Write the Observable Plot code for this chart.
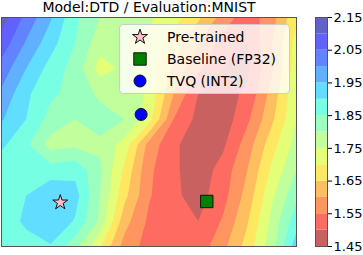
<!DOCTYPE html>
<html><head><meta charset="utf-8">
<script src="https://cdn.jsdelivr.net/npm/d3@7"></script>
<script src="https://cdn.jsdelivr.net/npm/@observablehq/plot@0.6"></script>
<style>
html,body{margin:0;padding:0;background:#fff;}
#root{position:relative;width:363px;height:255px;overflow:hidden;font-family:"DejaVu Sans",sans-serif;color:#000;}
#title{position:absolute;left:0;top:-1px;width:298px;text-align:center;font-size:14px;line-height:16px;white-space:nowrap;}
#main{position:absolute;left:0;top:16px;}
#cbar{position:absolute;left:314px;top:0;}
#legend{position:absolute;left:119px;top:24px;width:169px;height:68px;background:rgba(255,255,255,0.8);border:1px solid #cccccc;border-radius:4px;}
#legend svg{position:absolute;left:0;top:0;}
.lt{position:absolute;left:47px;font-size:14px;line-height:16px;white-space:nowrap;}
</style></head><body>
<div id="root">
  <div id="title">Model:DTD / Evaluation:MNIST</div>
  <div id="main"></div>
  <div id="cbar"></div>
  <div id="legend"></div>
</div>
<script>
// grid of sampled values (rows top -> bottom, 13 columns left -> right)
const gridCols = 13;
const gridRows = 10;
const row0 = [2.125, 2.035, 1.955, 1.86, 1.80, 1.78, 1.76, 1.72, 1.66, 1.58, 1.52, 1.58, 1.69];
const row1 = [2.08, 1.995, 1.92, 1.85, 1.77, 1.75, 1.73, 1.68, 1.60, 1.53, 1.50, 1.60, 1.72];
const row2 = [2.03, 1.95, 1.88, 1.83, 1.73, 1.76, 1.72, 1.64, 1.56, 1.50, 1.49, 1.59, 1.73];
const row3 = [1.99, 1.91, 1.86, 1.83, 1.79, 1.79, 1.74, 1.60, 1.50, 1.48, 1.51, 1.62, 1.74];
const row4 = [1.955, 1.90, 1.83, 1.80, 1.82, 1.80, 1.72, 1.55, 1.485, 1.47, 1.54, 1.64, 1.75];
const row5 = [1.91, 1.86, 1.78, 1.79, 1.79, 1.73, 1.58, 1.51, 1.47, 1.49, 1.575, 1.68, 1.77];
const row6 = [1.87, 1.87, 1.875, 1.885, 1.81, 1.69, 1.56, 1.51, 1.47, 1.52, 1.60, 1.71, 1.80];
const row7 = [1.87, 1.90, 1.94, 1.92, 1.80, 1.665, 1.555, 1.51, 1.48, 1.53, 1.62, 1.74, 1.84];
const row8 = [1.87, 1.91, 1.945, 1.895, 1.79, 1.62, 1.54, 1.51, 1.50, 1.555, 1.645, 1.765, 1.88];
const row9 = [1.86, 1.88, 1.895, 1.82, 1.705, 1.58, 1.53, 1.52, 1.52, 1.585, 1.67, 1.78, 1.93];

const levels = [1.45, 1.50, 1.55, 1.60, 1.65, 1.70, 1.75, 1.80, 1.85, 1.90, 1.95, 2.00, 2.05, 2.10, 2.15];
const cbarTicks = [1.45, 1.55, 1.65, 1.75, 1.85, 1.95, 2.05, 2.15];

const markerNames = ["Pre-trained", "Baseline (FP32)", "TVQ (INT2)"];
const markerX = [2.39, 8.35, 5.68];
const markerY = [7.27, 7.23, 3.81];
const markerSymbols = ["star", "square", "circle"];
const markerFills = ["pink", "green", "blue"];
const markerR = [4.7, 7, 6];

// --- build ---
const values = [row0,row1,row2,row3,row4,row5,row6,row7,row8,row9].flat();

function jet(t) {
  const seg = (pts) => {
    for (let i = 1; i < pts.length; i++) {
      if (t <= pts[i][0]) {
        const [x0, y0] = pts[i-1], [x1, y1] = pts[i];
        return y0 + (y1 - y0) * (t - x0) / (x1 - x0);
      }
    }
    return pts[pts.length-1][1];
  };
  const r = seg([[0,0],[0.35,0],[0.66,1],[0.89,1],[1,0.5]]);
  const g = seg([[0,0],[0.125,0],[0.375,1],[0.64,1],[0.91,0],[1,0]]);
  const b = seg([[0,0.5],[0.11,1],[0.34,1],[0.65,0],[1,0]]);
  return [r, g, b];
}
const alpha = 0.62;
const nb = levels.length - 1;
const bandColors = d3.range(nb).map(i => {
  const t = 1 - (i + 0.5) / nb; // reversed jet
  const [r, g, b] = jet(t);
  const f = v => Math.round(255 * (v * alpha + (1 - alpha)));
  return d3.rgb(f(r), f(g), f(b)).formatHex();
});
const cuts = d3.range(nb - 1).map(i => levels[i + 1] - 0.025);
const colorScale = {type: "threshold", domain: cuts, range: bandColors};

const main = Plot.plot({
  width: 297, height: 231,
  marginTop: 1, marginBottom: 1, marginLeft: 1, marginRight: 1,
  x: {domain: [0, 12], axis: null},
  y: {domain: [0, 9], reverse: true, axis: null},
  color: colorScale,
  style: {background: "transparent"},
  marks: [
    Plot.contour(values, {width: gridCols, height: gridRows, x1: -0.5, x2: 12.5, y1: -0.5, y2: 9.5,
      fill: Plot.identity, thresholds: levels, stroke: "none", clip: true}),
    Plot.frame({stroke: "#555", strokeWidth: 1}),
    ...markerNames.map((n, i) => Plot.dot([i], {x: () => markerX[i], y: () => markerY[i],
      symbol: markerSymbols[i], r: markerR[i], fill: markerFills[i], stroke: "#111", strokeWidth: 1}))
  ]
});
document.getElementById("main").appendChild(main);

const cbar = Plot.plot({
  width: 49, height: 255,
  marginTop: 17, marginBottom: 9, marginLeft: 1, marginRight: 36,
  x: {domain: [0, 1], axis: null},
  y: {domain: [1.45, 2.15], axis: null},
  color: colorScale,
  style: {background: "transparent", fontFamily: "DejaVu Sans", fontSize: "13px"},
  marks: [
    Plot.rect(d3.range(nb), {x1: 0, x2: 1, y1: i => levels[i], y2: i => levels[i + 1], fill: i => levels[i]}),
    Plot.frame({stroke: "#555", strokeWidth: 1}),
    Plot.axisY(cbarTicks, {anchor: "right", tickFormat: d3.format(".2f"), tickSize: 4, tickPadding: 2, fontSize: 13, stroke: "#000"})
  ]
});
document.getElementById("cbar").appendChild(cbar);

// legend
const leg = document.getElementById("legend");
const ns = "http://www.w3.org/2000/svg";
const lsvg = document.createElementNS(ns, "svg");
lsvg.setAttribute("width", 169); lsvg.setAttribute("height", 68);
const symMap = {star: d3.symbolStar, square: d3.symbolSquare, circle: d3.symbolCircle};
const rowY = [12, 34, 56];
markerNames.forEach((n, i) => {
  const p = document.createElementNS(ns, "path");
  p.setAttribute("d", d3.symbol(symMap[markerSymbols[i]], Math.PI * markerR[i] * markerR[i])());
  p.setAttribute("transform", `translate(20,${rowY[i]})`);
  p.setAttribute("fill", markerFills[i]);
  p.setAttribute("stroke", "#111");
  lsvg.appendChild(p);
  const t = document.createElement("div");
  t.className = "lt";
  t.style.top = (rowY[i] - 8) + "px";
  t.textContent = n;
  leg.appendChild(t);
});
leg.appendChild(lsvg);
</script>
</body></html>
